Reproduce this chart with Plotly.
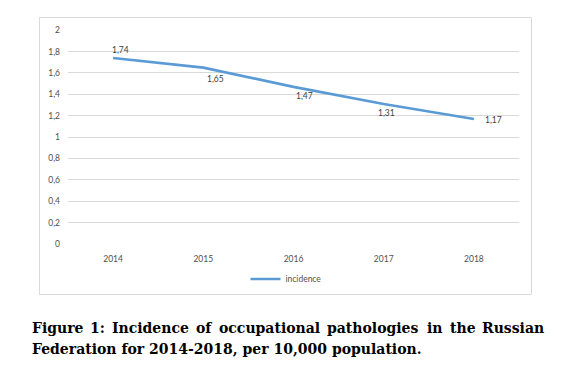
import plotly.graph_objects as go

# ---- data ----
years = ["2014", "2015", "2016", "2017", "2018"]
incidence = [1.74, 1.65, 1.47, 1.31, 1.17]
series_name = "incidence"
caption_line1_words = ["Figure", "1:", "Incidence", "of", "occupational",
                       "pathologies", "in", "the", "Russian"]
caption_line2 = "Federation for 2014-2018, per 10,000 population."

# ---- styles / layout (pixels, page coordinates) ----
OFF = 8                                     # default body margin of the html page
W, H = 565 - OFF, 369 - OFF
PL, PR, PT, PB = 68, 519, 30, 244           # plot area in page pixels
label_offsets = [(7, 8), (12, -11), (11, -9), (3, -9), (20, -1)]
LINE_COLOR = "#5B9BD5"
TXT = "#505050"
CHART_FONT = "Lato"
CAP_FONT = "DejaVu Serif"
CAP_SIZE = 14
CAP_LEFT, CAP_RIGHT = 30, 546               # justified caption line extent

# approximate advance widths (em) of DejaVu Serif Bold, used to justify line 1
CHAR_EM = {"a": .675, "b": .715, "c": .592, "d": .715, "e": .678, "f": .471,
           "g": .715, "h": .76, "i": .38, "l": .38, "n": .76, "o": .687,
           "p": .715, "r": .562, "s": .595, "t": .478, "u": .76, "F": .76,
           "I": .468, "R": .84, "1": .696, ":": .40}


def word_px(w):
    return sum(CHAR_EM.get(ch, .65) for ch in w) * CAP_SIZE * 0.975


def px_x(px):
    return (px - PL) / (PR - PL)


def px_y(py):
    return (PB - py) / (PB - PT)


fig = go.Figure()
fig.add_trace(go.Scatter(
    x=years, y=incidence, mode="lines", name=series_name,
    line=dict(color=LINE_COLOR, width=2.6), showlegend=True,
))

annotations = []
for i, (v, (dx, dy)) in enumerate(zip(incidence, label_offsets)):
    annotations.append(dict(
        x=i, y=v, xref="x", yref="y", text=f"{v:.2f}".replace(".", ","),
        showarrow=False, xshift=dx, yshift=dy,
        font=dict(family=CHART_FONT, size=8.5, color="#404040"),
    ))

# caption line 1, justified: words spread with equal gaps
widths = [word_px(w) for w in caption_line1_words]
n = len(caption_line1_words)
gap = (CAP_RIGHT - CAP_LEFT - sum(widths)) / (n - 1)
cursor = CAP_LEFT
for i, (w, wd) in enumerate(zip(caption_line1_words, widths)):
    if i == 0:
        xpos, anchor = CAP_LEFT, "left"
    elif i == n - 1:
        xpos, anchor = CAP_RIGHT, "right"
    else:
        xpos, anchor = cursor + wd / 2, "center"
    cursor += wd + gap
    annotations.append(dict(
        x=px_x(xpos), y=px_y(327.5), xref="paper", yref="paper", text=f"<b>{w}</b>",
        showarrow=False, xanchor=anchor, yanchor="middle",
        font=dict(family=CAP_FONT, size=CAP_SIZE, color="black"),
    ))
annotations.append(dict(
    x=px_x(CAP_LEFT), y=px_y(348.5), xref="paper", yref="paper",
    text=f"<b>{caption_line2}</b>", showarrow=False, xanchor="left", yanchor="middle",
    font=dict(family=CAP_FONT, size=CAP_SIZE, color="black"),
))

fig.update_layout(
    width=W, height=H,
    margin=dict(l=PL - OFF, r=W - (PR - OFF), t=PT - OFF, b=H - (PB - OFF), pad=0),
    paper_bgcolor="white", plot_bgcolor="white",
    separators=", ",
    font=dict(family=CHART_FONT, size=8.5, color=TXT),
    showlegend=True,
    legend=dict(orientation="h", x=px_x(286), y=px_y(279), xanchor="center",
                yanchor="middle", font=dict(family=CHART_FONT, size=8.5, color=TXT),
                itemwidth=30, bgcolor="rgba(0,0,0,0)"),
    annotations=annotations,
    shapes=[dict(type="rect", xref="paper", yref="paper",
                 x0=px_x(39.5), x1=px_x(531.5), y0=px_y(294.5), y1=px_y(17.5),
                 line=dict(color="#d9d9d9", width=1), layer="below")],
)
fig.update_xaxes(type="category", range=[-0.5, 4.5], showgrid=False, showline=False,
                 zeroline=False, ticks="", ticklabelstandoff=8,
                 tickfont=dict(family=CHART_FONT, size=8.5, color=TXT))
fig.update_yaxes(range=[0, 2.002], dtick=0.2, tick0=0, showgrid=True, gridcolor="#d9d9d9",
                 gridwidth=1, zeroline=False, showline=False, ticks="",
                 ticklabelstandoff=7,
                 tickfont=dict(family=CHART_FONT, size=8.5, color=TXT))

fig.write_html("out.html")
